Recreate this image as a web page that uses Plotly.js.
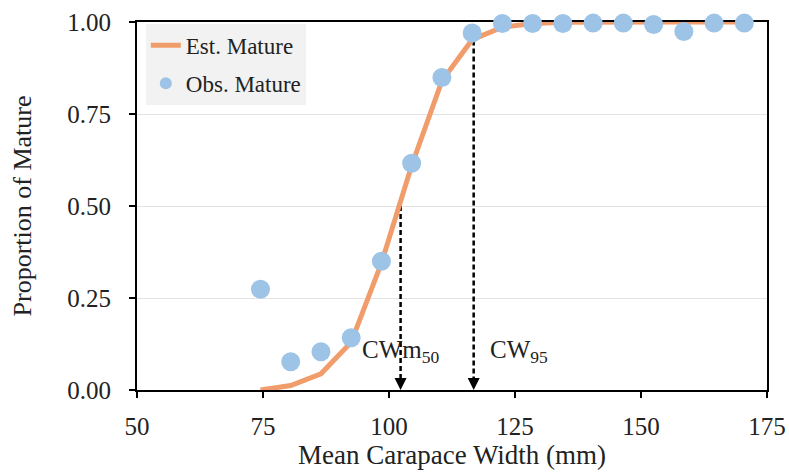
<!DOCTYPE html>
<html>
<head>
<meta charset="utf-8">
<script src="https://cdn.plot.ly/plotly-3.0.1.min.js"></script>
<style>html,body{margin:0;padding:0;background:#fff;}#chart{width:789px;height:475px;}</style>
</head>
<body>
<div id="chart"></div>
<script>
// Data
const widthObs = [74.5, 80.5, 86.5, 92.5, 98.5, 104.5, 110.5, 116.5, 122.5, 128.5, 134.5, 140.5, 146.5, 152.5, 158.5, 164.5, 170.5];
const propObs  = [0.274, 0.077, 0.104, 0.142, 0.350, 0.616, 0.849, 0.970, 0.996, 0.996, 0.996, 0.997, 0.997, 0.993, 0.974, 0.997, 0.997];
const widthEst = [74.5, 80.5, 86.5, 92.5, 98.5, 104.5, 110.5, 116.5, 122.5, 128.5, 134.5, 140.5, 146.5, 152.5, 158.5, 164.5, 170.5];
const propEst  = [0.0, 0.012, 0.044, 0.13, 0.345, 0.61, 0.84, 0.952, 0.986, 0.996, 0.999, 1.0, 1.0, 1.0, 1.0, 1.0, 1.0];
const cw50 = 102.3, cw50Prop = 0.5;
const cw95 = 116.8, cw95Prop = 0.95;
const xTicks = [50, 75, 100, 125, 150, 175];
const yTicks = [0, 0.25, 0.5, 0.75, 1.0];
const yTickText = ["0.00", "0.25", "0.50", "0.75", "1.00"];

const FONT = "'Liberation Serif', 'Times New Roman', serif";
const TXT = '#222';

const traces = [
  {x: [cw50, cw50], y: [cw50Prop, 0.02], mode: 'lines', line: {color: '#000', width: 2.5, dash: '5px,3px'}, showlegend: false, hoverinfo: 'skip'},
  {x: [cw95, cw95], y: [cw95Prop, 0.02], mode: 'lines', line: {color: '#000', width: 2.5, dash: '5px,3px'}, showlegend: false, hoverinfo: 'skip'},
  {x: [cw50, cw95], y: [0, 0], mode: 'markers', marker: {symbol: 'arrow-down', size: 12, color: '#000', line: {width: 0}}, showlegend: false, hoverinfo: 'skip', cliponaxis: false},
  {x: widthEst, y: propEst, name: 'Est. Mature', mode: 'lines', line: {color: '#F19C6B', width: 5}, cliponaxis: false, legendgroup: 'a'},
  {x: widthObs, y: propObs, name: 'Obs. Mature', mode: 'markers', marker: {color: '#9DC3E6', size: 19}, cliponaxis: false, legendgroup: 'b'}
];

const layout = {
  width: 789, height: 475,
  margin: {l: 137, r: 22, t: 22, b: 85},
  paper_bgcolor: '#fff', plot_bgcolor: '#fff',
  font: {family: FONT, color: TXT, size: 22},
  showlegend: true,
  legend: {x: 0.014, y: 0.995, xanchor: 'left', yanchor: 'top', bgcolor: '#F2F2F2', font: {family: FONT, size: 23, color: TXT}, tracegroupgap: 5, traceorder: 'grouped', itemsizing: 'constant'},
  xaxis: {range: [50, 175], tickvals: xTicks, ticks: 'outside', ticklen: 6, tickwidth: 2, tickcolor: '#000', ticklabelstandoff: 7,
    showline: true, linecolor: '#000', linewidth: 2, mirror: true, showgrid: false, zeroline: false, layer: 'below traces',
    tickfont: {family: FONT, size: 25, color: TXT},
    title: {text: 'Mean Carapace Width (mm)', font: {family: FONT, size: 27, color: TXT}, standoff: 6}},
  yaxis: {range: [0, 1], tickvals: yTicks, ticktext: yTickText, ticks: 'outside', ticklen: 6, tickwidth: 2, tickcolor: '#000', ticklabelstandoff: 13,
    showline: true, linecolor: '#000', linewidth: 2, mirror: true, showgrid: true, gridcolor: '#E3E3E3', gridwidth: 1, zeroline: false, layer: 'below traces',
    tickfont: {family: FONT, size: 25, color: TXT},
    title: {text: 'Proportion of Mature', font: {family: FONT, size: 26, color: TXT}, standoff: 28}},
  annotations: [
    {x: cw50, y: 0.105, xref: 'x', yref: 'y', text: 'CWm<sub>50</sub>', showarrow: false, xanchor: 'center', font: {family: FONT, size: 25, color: TXT}},
    {x: cw95 + 2.8, y: 0.105, xref: 'x', yref: 'y', text: 'CW<sub>95</sub>', showarrow: false, xanchor: 'left', font: {family: FONT, size: 25, color: TXT}}
  ]
};

Plotly.newPlot('chart', traces, layout, {displayModeBar: false, staticPlot: true});
</script>
</body>
</html>
